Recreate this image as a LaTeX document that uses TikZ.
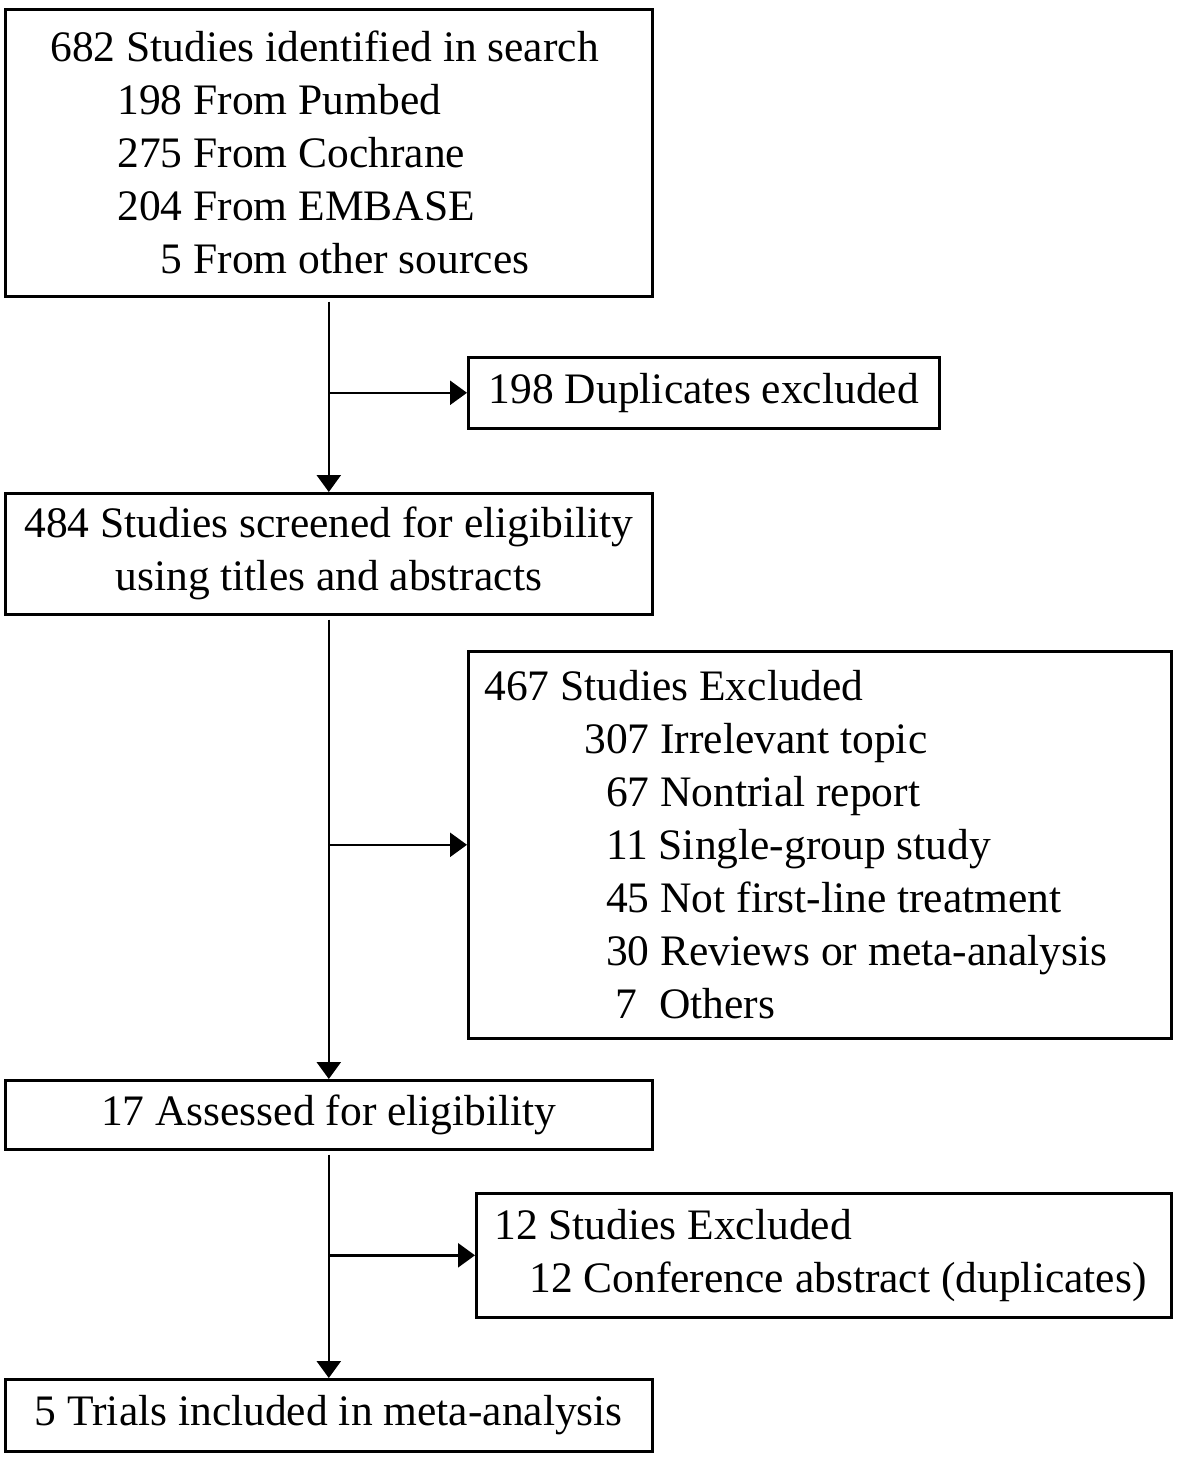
\documentclass[tikz,border=0pt]{standalone}
\usepackage{fontspec}
\setmainfont{Liberation Serif}
\usetikzlibrary{arrows.meta}
\tikzset{>={Triangle[width=24pt,length=17pt]}}

\begin{document}
\begin{tikzpicture}[x=1pt,y=-1pt,line width=2.6pt,font=\fontsize{43.5}{53}\selectfont]
\tikzstyle{b}=[draw,inner sep=0,anchor=north west]
\tikzstyle{bl}=[b,align=flush left]
\tikzstyle{bc}=[b,align=flush center]

    \useasboundingbox (0,0) rectangle (1181,1458);

    \node[bl, minimum width=647pt, minimum height=287pt, text width=557pt] (search) at (4,8){682 Studies identified in search\\
      \hspace*{67pt}198 From Pumbed\\
      \hspace*{67pt}275 From Cochrane\\
      \hspace*{67pt}204 From EMBASE\\
      \hspace*{110.5pt}5 From other sources};
    \node[bc, minimum width=471pt, minimum height=71pt] (dup) at (467,356){198 Duplicates excluded};
    \node[bc, minimum width=647pt, minimum height=121pt] (screen) at (4,492){484 Studies screened for eligibility\\using titles and abstracts};
    \node[bl, minimum width=703pt, minimum height=387pt, text width=671pt] (excl) at (467,650){467 Studies Excluded\\
      \hspace*{100pt}307 Irrelevant topic\\
      \hspace*{121.75pt}67 Nontrial report\\
      \hspace*{121.75pt}11 Single-group study\\
      \hspace*{121.75pt}45 Not first-line treatment\\
      \hspace*{121.75pt}30 Reviews or meta-analysis\\
      \hspace*{131.5pt}7\ \ Others};
    \node[bc, minimum width=647pt, minimum height=69pt] (assess) at (4,1079){17 Assessed for eligibility};
    \node[bl, minimum width=695pt, minimum height=124pt, text width=659pt] (excl2) at (475,1192){12 Studies Excluded\\
      \hspace*{35pt}12 Conference abstract (duplicates)};
    \node[bc, minimum width=647pt, minimum height=72pt] (incl) at (4,1378){5 Trials included in meta-analysis};

    \coordinate (j1) at (search.south |- dup.west);
    \coordinate (j2) at (search.south |- excl.west);
    \coordinate (j3) at (search.south |- excl2.west);

    \draw[->,shorten <=4pt] (search) -- (screen);
    \draw[->,shorten <=4pt] (screen) -- (assess);
    \draw[->,shorten <=4pt] (assess) -- (incl);
    \draw[->] (j1) -- (dup.west);
    \draw[->] (j2) -- (excl.west);
    \draw[->] (j3) -- (excl2.west);

\end{tikzpicture}
\end{document}
